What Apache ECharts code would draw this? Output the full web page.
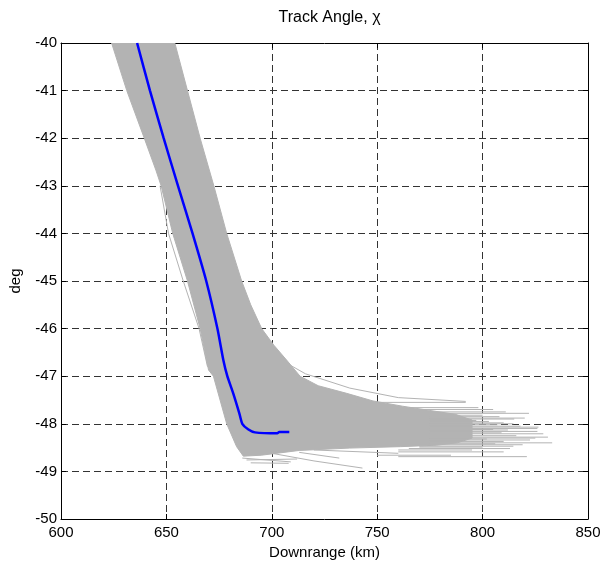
<!DOCTYPE html>
<html>
<head>
<meta charset="utf-8">
<script src="https://cdn.jsdelivr.net/npm/echarts@6/dist/echarts.min.js"></script>
<style>html,body{margin:0;padding:0;background:#fff}#c{width:611px;height:570px}</style>
</head>
<body>
<div id="c"></div>
<script>
// ---- Data ----
var xTicks = [600, 650, 700, 750, 800, 850];
var yTicks = [-50, -49, -48, -47, -46, -45, -44, -43, -42, -41, -40];

// Envelope of the grey Monte Carlo trajectories [downrange km, deg]
var bandLeft = [[624,-40],[631.2,-41],[639.5,-42],[645,-42.67],[647.5,-43],[653,-44],[660,-45],[666,-46],[670,-46.87],[672.3,-47],[678.6,-48],[683.3,-48.48],[686.5,-48.68]];
var bandBottom = [[695,-48.66],[713,-48.56],[737,-48.51],[761,-48.48],[778,-48.45],[788,-48.4],[795,-48.3]];
var bandUpper = [[795,-47.92],[787,-47.8],[775,-47.72],[762,-47.63],[748,-47.52],[735.5,-47.36],[722,-47.2],[713.4,-47.0],[707,-46.66],[701,-46.35],[695.2,-46],[690,-45.5],[685.7,-45],[678.6,-44],[672.5,-43],[666,-42],[660,-41],[654,-40]];

// Individual grey trajectory ends in the tail: [deg, start km, end km]
var tailLines = [[-47.55,740,792],[-47.66,765,798],[-47.7,770,805],[-47.75,770,811],[-47.78,775,822],[-47.82,775,800],[-47.85,775,808],[-47.88,775,820],[-47.9,775,815],[-47.93,775,797],[-47.95,775,803],[-47.98,775,810],[-48.0,775,814.6],[-48.02,775,807],[-48.05,775,818],[-48.07,775,826.5],[-48.1,775,826],[-48.12,775,805],[-48.13,775,812],[-48.16,775,826],[-48.19,775,809],[-48.21,775,828.8],[-48.25,775,816],[-48.28,775,831],[-48.3,775,825],[-48.32,775,802],[-48.34,775,822.5],[-48.37,775,810],[-48.4,775,833],[-48.42,775,806],[-48.44,775,819],[-48.47,770,814.6],[-48.49,770,800],[-48.52,765,813],[-48.55,760,795],[-48.59,760,810],[-48.66,750,785],[-48.69,760,821]];

// Outlying grey trajectories
var outlierLines = [
  [[647,-43],[651,-44],[658,-45],[665.5,-46],[669.5,-46.8]],
  [[706,-46.7],[716,-46.95],[737,-47.25],[760,-47.45],[792,-47.53]],
  [[686,-48.72],[709,-48.8]],
  [[688,-48.76],[712,-48.74]],
  [[690,-48.82],[708,-48.83]],
  [[700,-48.62],[720,-48.78],[743,-48.93]],
  [[713,-48.6],[732,-48.72]],
  [[720,-48.55],[760,-48.62]]
];

// Nominal trajectory (blue)
var nominal = [[636.1,-40],[642.2,-41],[648.7,-42],[655.5,-43],[662.4,-44],[668.9,-45],[674.2,-46],[677,-46.66],[678.9,-47],[681.7,-47.36],[684.6,-47.78],[686,-48],[688.9,-48.12],[692,-48.18],[702.6,-48.2],[703.5,-48.17],[708.3,-48.17]];

// ---- Chart ----
var grey = '#b3b3b3';
var bandPoly = bandLeft.concat(bandBottom, bandUpper);
var tailData = tailLines.map(function (t) { return { coords: [[t[1], t[0]], [t[2], t[0]]] }; });
var outlierData = outlierLines.map(function (c) { return { coords: c }; });

var font = 'Liberation Sans, Arial, Helvetica, sans-serif';
var fs = 15;
var chart = echarts.init(document.getElementById('c'), null, { renderer: 'canvas' });
var gridLine = { show: true, lineStyle: { color: '#333', type: [7, 4], width: 1 } };
chart.setOption({
  animation: false,
  backgroundColor: '#fff',
  title: {
    text: 'Track Angle, χ', left: 324.5, top: 5, textAlign: 'center',
    textStyle: { fontFamily: font, fontSize: 16, fontWeight: 'normal', color: '#000' }
  },
  grid: { left: 61, right: 23, top: 43, bottom: 51 },
  xAxis: [{
    type: 'value', min: 600, max: 850, interval: 50,
    name: 'Downrange (km)', nameLocation: 'middle', nameGap: 24,
    nameTextStyle: { fontFamily: font, fontSize: fs, color: '#000' },
    axisLine: { show: true, onZero: false, lineStyle: { color: '#000', width: 1 } },
    axisTick: { show: true, inside: true, length: 5, lineStyle: { color: '#000' } },
    axisLabel: { fontFamily: font, fontSize: fs, color: '#000', margin: 6,
      formatter: function (v) { return xTicks.indexOf(v) >= 0 ? String(v) : ''; } },
    splitLine: gridLine
  }, {
    type: 'value', min: 600, max: 850, interval: 50, position: 'top',
    axisLine: { show: true, onZero: false, lineStyle: { color: '#000', width: 1 } },
    axisTick: { show: true, inside: true, length: 5, lineStyle: { color: '#000' } },
    axisLabel: { show: false }, splitLine: { show: false }
  }],
  yAxis: [{
    type: 'value', min: -50, max: -40, interval: 1,
    name: 'deg', nameLocation: 'middle', nameGap: 38,
    nameTextStyle: { fontFamily: font, fontSize: fs, color: '#000' },
    axisLine: { show: true, onZero: false, lineStyle: { color: '#000', width: 1 } },
    axisTick: { show: true, inside: true, length: 5, lineStyle: { color: '#000' } },
    axisLabel: { fontFamily: font, fontSize: fs, color: '#000', margin: 4,
      formatter: function (v) { return yTicks.indexOf(v) >= 0 ? String(v) : ''; } },
    splitLine: gridLine
  }, {
    type: 'value', min: -50, max: -40, interval: 1, position: 'right',
    axisLine: { show: true, onZero: false, lineStyle: { color: '#000', width: 1 } },
    axisTick: { show: true, inside: true, length: 5, lineStyle: { color: '#000' } },
    axisLabel: { show: false }, splitLine: { show: false }
  }],
  series: [{
    type: 'custom',
    xAxisIndex: 0, yAxisIndex: 0,
    data: [[0, 0]],
    clip: true,
    z: 2,
    renderItem: function (params, api) {
      var pts = bandPoly.map(function (p) { return api.coord(p); });
      return { type: 'polygon', shape: { points: pts }, style: { fill: grey, stroke: grey, lineWidth: 1 } };
    }
  }, {
    type: 'lines', coordinateSystem: 'cartesian2d', xAxisIndex: 0, yAxisIndex: 0,
    polyline: true, z: 3, silent: true,
    lineStyle: { color: grey, width: 1, opacity: 1 },
    data: tailData
  }, {
    type: 'lines', coordinateSystem: 'cartesian2d', xAxisIndex: 0, yAxisIndex: 0,
    polyline: true, z: 3, silent: true,
    lineStyle: { color: grey, width: 1, opacity: 1 },
    data: outlierData
  }, {
    type: 'line', xAxisIndex: 0, yAxisIndex: 0,
    data: nominal, showSymbol: false, symbol: 'none', z: 5, smooth: 0.2,
    lineStyle: { color: '#0000ff', width: 2.5 }
  }]
});
</script>
</body>
</html>
